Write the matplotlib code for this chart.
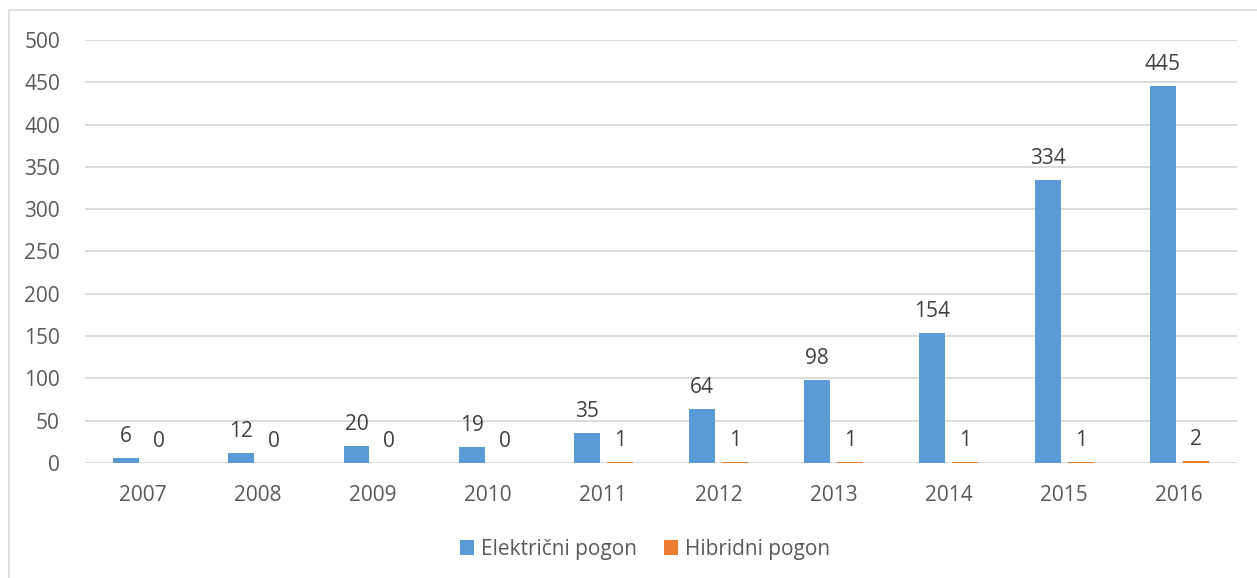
import numpy as np
import matplotlib.pyplot as plt
from matplotlib.patches import Rectangle

years = ["2007", "2008", "2009", "2010", "2011", "2012", "2013", "2014", "2015", "2016"]
elektricni = [6, 12, 20, 19, 35, 64, 98, 154, 334, 445]
hibridni = [0, 0, 0, 0, 1, 1, 1, 1, 1, 2]

blue = "#5B9BD5"
orange = "#ED7D31"
txt = "#595959"

plt.rcParams['font.family'] = ['Open Sans', 'DejaVu Sans']

fig = plt.figure(figsize=(12.57, 5.78), dpi=100)
ax = fig.add_axes([0.0676, 0.199, 0.9164, 0.732])

# chart frame, like the Excel chart area border
fig.patches.append(Rectangle((9 / 1257, -0.1), 1.2, 1 - 10 / 578 + 0.1,
                             transform=fig.transFigure, fill=False,
                             edgecolor="#D9D9D9", linewidth=1.2))

x = np.arange(len(years))
w = 0.225
off = 0.143
b1 = ax.bar(x - off, elektricni, w, color=blue, label="Električni pogon")
b2 = ax.bar(x + off, hibridni, w, color=orange, label="Hibridni pogon")

for bars, vals in ((b1, elektricni), (b2, hibridni)):
    for r, v in zip(bars, vals):
        ax.annotate(str(v), (r.get_x() + r.get_width() / 2, r.get_height()),
                    xytext=(0, 8), textcoords="offset points",
                    ha="center", va="bottom", fontsize=15, color="#404040")

ax.set_xlim(-0.5, len(years) - 0.5)
ax.set_ylim(0, 500)
ax.set_yticks(np.arange(0, 501, 50))
ax.set_xticks(x)
ax.set_xticklabels(years)
ax.tick_params(length=0, labelsize=15, colors=txt)
ax.tick_params(axis="x", pad=16)
ax.tick_params(axis="y", pad=18)
ax.grid(axis="y", color="#D9D9D9", linewidth=1.3)
ax.set_axisbelow(True)
for s in ax.spines.values():
    s.set_visible(False)

ax.legend(loc="upper center", bbox_to_anchor=(0.486, -0.135), ncol=2, frameon=False,
          fontsize=15, labelcolor=txt, handlelength=0.7, handleheight=0.7,
          handletextpad=0.3, columnspacing=1.3)

fig.savefig("out.png", dpi=100)
